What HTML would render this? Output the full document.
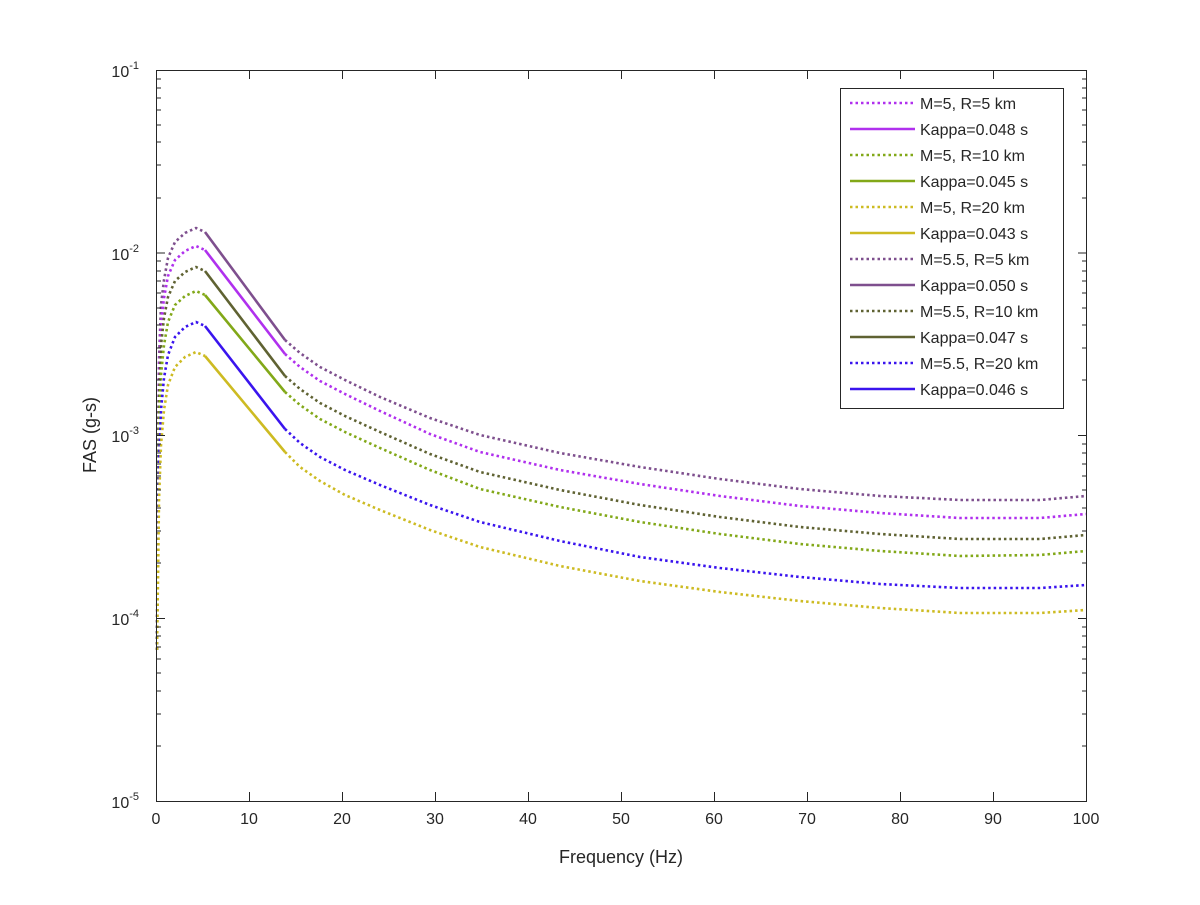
<!DOCTYPE html>
<html><head><meta charset="utf-8"><style>
body{margin:0;background:#fff}
svg text{font-family:"Liberation Sans",Arial,sans-serif;fill:#262626}
</style></head><body>
<svg width="1200" height="900" viewBox="0 0 1200 900" xmlns="http://www.w3.org/2000/svg">
<rect width="1200" height="900" fill="#fff"/>
<g fill="none" stroke-width="2.6">
<g stroke="#7E4F8E">
<path stroke-dasharray="2.5 3" d="M157,650 L158,450 L159,360 L161,305 L164,280 L168,258 L175,242 L185,233 L196,228 L205,232"/>
<path d="M205,232 L285,340"/>
<path stroke-dasharray="2.5 3" d="M285,340 L300,353 L320,367 L345,380 L380,397 L430,418 L480,435 L560,453 L640,467 L720,479 L800,489 L880,496 L960,500 L1040,500 L1086,496"/>
</g>
<g stroke="#B030EE">
<path stroke-dasharray="2.5 3" d="M157,650 L158,470 L159,380 L161,325 L164,298 L168,276 L175,260 L185,251 L196,246 L205,250"/>
<path d="M205,250 L285,354"/>
<path stroke-dasharray="2.5 3" d="M285,354 L300,367 L320,381 L345,394 L380,411 L430,434 L480,452 L560,470 L640,484 L720,496 L800,506 L880,513 L960,518 L1040,518 L1086,514"/>
</g>
<g stroke="#5F6232">
<path stroke-dasharray="2.5 3" d="M157,650 L158,490 L159,400 L161,345 L164,318 L168,297 L175,281 L185,272 L196,267 L205,271"/>
<path d="M205,271 L285,376"/>
<path stroke-dasharray="2.5 3" d="M285,376 L300,389 L320,403 L345,416 L380,432 L430,454 L480,472 L560,490 L640,505 L720,517 L800,527 L880,534 L960,539 L1040,539 L1086,535"/>
</g>
<g stroke="#82A818">
<path stroke-dasharray="2.5 3" d="M157,650 L158,510 L159,430 L161,375 L164,345 L168,322 L175,305 L185,296 L196,291 L205,295"/>
<path d="M205,295 L285,392"/>
<path stroke-dasharray="2.5 3" d="M285,392 L300,405 L320,419 L345,432 L380,448 L430,470 L480,489 L560,507 L640,522 L720,534 L800,544 L880,551 L960,556 L1040,555 L1086,551"/>
</g>
<g stroke="#3A14EE">
<path stroke-dasharray="2.5 3" d="M157,650 L158,540 L159,460 L161,410 L164,378 L168,355 L175,337 L185,327 L196,322 L205,326"/>
<path d="M205,326 L285,429"/>
<path stroke-dasharray="2.5 3" d="M285,429 L300,443 L320,457 L345,470 L380,485 L430,505 L480,522 L560,541 L640,557 L720,568 L800,577 L880,584 L960,588 L1040,588 L1086,585"/>
</g>
<g stroke="#CDBB22">
<path stroke-dasharray="2.5 3" d="M157,650 L158,580 L159,500 L161,445 L164,410 L168,385 L175,367 L185,357 L196,352 L205,356"/>
<path d="M205,356 L285,452"/>
<path stroke-dasharray="2.5 3" d="M285,452 L300,467 L320,481 L345,495 L380,510 L430,530 L480,547 L560,566 L640,581 L720,592 L800,601 L880,608 L960,613 L1040,613 L1086,610"/>
</g>
</g>
<g stroke="#262626" stroke-width="1" fill="none">
<rect x="156.5" y="70.5" width="930" height="731"/>
<path d="M156.5,801 v-9 M249.5,801 v-9 M342.5,801 v-9 M435.5,801 v-9 M528.5,801 v-9 M621.5,801 v-9 M714.5,801 v-9 M807.5,801 v-9 M900.5,801 v-9 M993.5,801 v-9 M1086.5,801 v-9
M156.5,70 v9 M249.5,70 v9 M342.5,70 v9 M435.5,70 v9 M528.5,70 v9 M621.5,70 v9 M714.5,70 v9 M807.5,70 v9 M900.5,70 v9 M993.5,70 v9 M1086.5,70 v9"/>
<path d="M156,70.5 h9 M156,253 h9 M156,435.5 h9 M156,618.5 h9 M1087,70.5 h-9 M1087,253 h-9 M1087,435.5 h-9 M1087,618.5 h-9"/>
<path d="
M156,746 h5 M156,714 h5 M156,691 h5 M156,673 h5 M156,659 h5 M156,647 h5 M156,636 h5 M156,627 h5
M156,563 h5 M156,531 h5 M156,508 h5 M156,490 h5 M156,476 h5 M156,464 h5 M156,453 h5 M156,444 h5
M156,380 h5 M156,348 h5 M156,325 h5 M156,308 h5 M156,293 h5 M156,281 h5 M156,271 h5 M156,261 h5
M156,198 h5 M156,165 h5 M156,142 h5 M156,125 h5 M156,110 h5 M156,98 h5 M156,88 h5 M156,79 h5
M1087,746 h-5 M1087,714 h-5 M1087,691 h-5 M1087,673 h-5 M1087,659 h-5 M1087,647 h-5 M1087,636 h-5 M1087,627 h-5
M1087,563 h-5 M1087,531 h-5 M1087,508 h-5 M1087,490 h-5 M1087,476 h-5 M1087,464 h-5 M1087,453 h-5 M1087,444 h-5
M1087,380 h-5 M1087,348 h-5 M1087,325 h-5 M1087,308 h-5 M1087,293 h-5 M1087,281 h-5 M1087,271 h-5 M1087,261 h-5
M1087,198 h-5 M1087,165 h-5 M1087,142 h-5 M1087,125 h-5 M1087,110 h-5 M1087,98 h-5 M1087,88 h-5 M1087,79 h-5"/>
</g>
<g font-size="16" text-anchor="middle">
<text x="156" y="824">0</text><text x="249" y="824">10</text><text x="342" y="824">20</text><text x="435" y="824">30</text><text x="528" y="824">40</text><text x="621" y="824">50</text><text x="714" y="824">60</text><text x="807" y="824">70</text><text x="900" y="824">80</text><text x="993" y="824">90</text><text x="1086" y="824">100</text>
<text x="621" y="863" font-size="18">Frequency (Hz)</text>
</g>
<g font-size="16" text-anchor="end">
<text x="139" y="77">10<tspan font-size="11" dy="-8">-1</tspan></text>
<text x="139" y="260">10<tspan font-size="11" dy="-8">-2</tspan></text>
<text x="139" y="442">10<tspan font-size="11" dy="-8">-3</tspan></text>
<text x="139" y="625">10<tspan font-size="11" dy="-8">-4</tspan></text>
<text x="139" y="808">10<tspan font-size="11" dy="-8">-5</tspan></text>
</g>
<text x="96" y="435" font-size="18" text-anchor="middle" transform="rotate(-90 96 435)">FAS (g-s)</text>
<rect x="840.5" y="88.5" width="223" height="320" fill="#fff" stroke="#262626"/>
<g stroke-width="2.6">
<line x1="850" x2="915" y1="103" y2="103" stroke="#B030EE" stroke-dasharray="2.5 3"/>
<line x1="850" x2="915" y1="129" y2="129" stroke="#B030EE"/>
<line x1="850" x2="915" y1="155" y2="155" stroke="#82A818" stroke-dasharray="2.5 3"/>
<line x1="850" x2="915" y1="181" y2="181" stroke="#82A818"/>
<line x1="850" x2="915" y1="207" y2="207" stroke="#CDBB22" stroke-dasharray="2.5 3"/>
<line x1="850" x2="915" y1="233" y2="233" stroke="#CDBB22"/>
<line x1="850" x2="915" y1="259" y2="259" stroke="#7E4F8E" stroke-dasharray="2.5 3"/>
<line x1="850" x2="915" y1="285" y2="285" stroke="#7E4F8E"/>
<line x1="850" x2="915" y1="311" y2="311" stroke="#5F6232" stroke-dasharray="2.5 3"/>
<line x1="850" x2="915" y1="337" y2="337" stroke="#5F6232"/>
<line x1="850" x2="915" y1="363" y2="363" stroke="#3A14EE" stroke-dasharray="2.5 3"/>
<line x1="850" x2="915" y1="389" y2="389" stroke="#3A14EE"/>
</g>
<g font-size="16" fill="#000">
<text x="920" y="109">M=5, R=5 km</text>
<text x="920" y="135">Kappa=0.048 s</text>
<text x="920" y="161">M=5, R=10 km</text>
<text x="920" y="187">Kappa=0.045 s</text>
<text x="920" y="213">M=5, R=20 km</text>
<text x="920" y="239">Kappa=0.043 s</text>
<text x="920" y="265">M=5.5, R=5 km</text>
<text x="920" y="291">Kappa=0.050 s</text>
<text x="920" y="317">M=5.5, R=10 km</text>
<text x="920" y="343">Kappa=0.047 s</text>
<text x="920" y="369">M=5.5, R=20 km</text>
<text x="920" y="395">Kappa=0.046 s</text>
</g>
</svg>
</body></html>
